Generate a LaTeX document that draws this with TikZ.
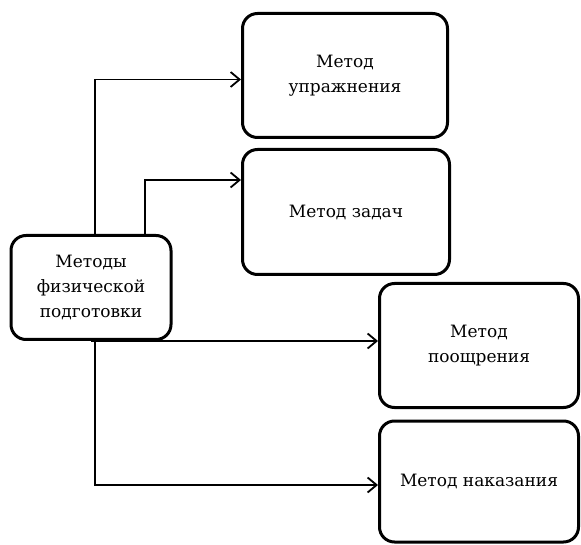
\documentclass[tikz,border=0pt]{standalone}
\usepackage{fontspec}
\setmainfont{DejaVu Serif}
\usetikzlibrary{arrows.meta,positioning,calc}

\tikzset{
    method_box/.style={rectangle, draw, line width=3pt, rounded corners=15pt, align=center,
        font=\fontsize{17}{25}\selectfont, inner sep=0pt},
    link/.style={line width=1.8pt, -{Straight Barb[length=9pt, width=15pt, line width=1.8pt]}},
}

\begin{document}
\begin{tikzpicture}[x=1pt, y=1pt]
        \useasboundingbox (0, 0) rectangle (581, 544);
        % \node (n) at (0, 0) {};
        \node[method_box, minimum width=160pt, minimum height=104pt] (phys_methods) at (91, 256.5) {Методы\\физической\\подготовки};
        \node[method_box, minimum width=205pt, minimum height=124pt] (method_exercise) at (345, 468.5) {Метод\\упражнения};
        \node[method_box, minimum width=207pt, minimum height=125pt] (method_tasks) at (346, 332) {Метод задач};
        \node[method_box, minimum width=199pt, minimum height=124pt] (method_reward) at (479, 198.5) {Метод\\поощрения};
        \node[method_box, minimum width=199pt, minimum height=121pt] (method_punish) at (479, 62.5) {Метод наказания};

        \coordinate (top_a) at ($(phys_methods.north)+(4, 0)$);
        \coordinate (top_b) at ($(phys_methods.north)+(54, 0)$);
        \coordinate (bottom_a) at ($(phys_methods.south)+(4, 0)$);

        \draw[link] (top_a) |- ([yshift=-4pt]method_exercise.west);
        \draw[link] (top_b) |- ([yshift=32pt]method_tasks.west);
        \draw[link] (phys_methods.south) -- (phys_methods.south -| method_reward.west);
        \draw[link] (bottom_a) |- ([yshift=-3.5pt]method_punish.west);
    \end{tikzpicture}
\end{document}
